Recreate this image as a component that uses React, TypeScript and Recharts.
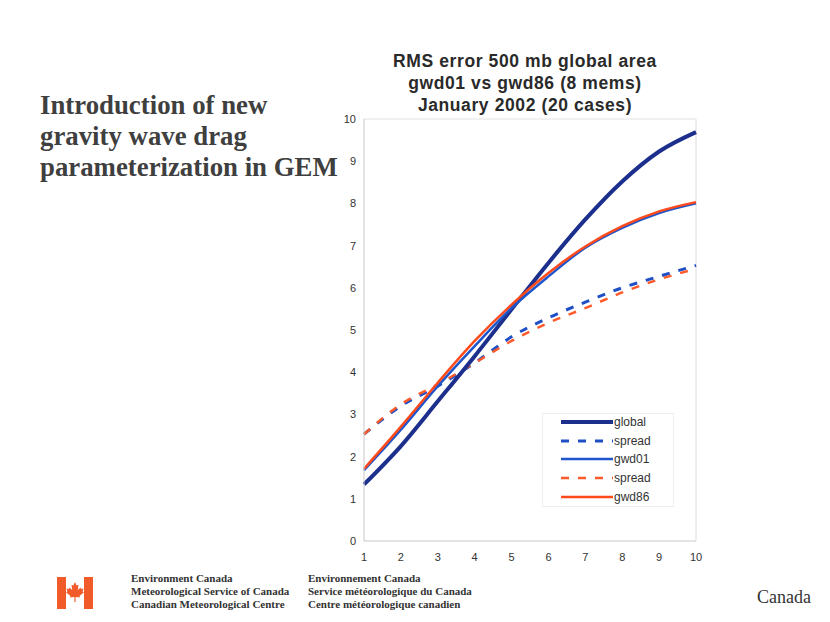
import React from "react";
import { LineChart, Line, XAxis, YAxis, Legend, ReferenceLine } from "recharts";

const leadDays = [1, 2, 3, 4, 5, 6, 7, 8, 9, 10];
const globalErr = [1.34, 2.25, 3.31, 4.38, 5.49, 6.59, 7.62, 8.52, 9.23, 9.69];
const spread01 = [2.53, 3.2, 3.67, 4.22, 4.84, 5.29, 5.66, 6.0, 6.27, 6.53];
const gwd01 = [1.68, 2.64, 3.67, 4.62, 5.52, 6.27, 6.95, 7.42, 7.77, 8.0];
const spread86 = [2.53, 3.24, 3.71, 4.22, 4.74, 5.17, 5.52, 5.89, 6.2, 6.45];
const gwd86 = [1.71, 2.71, 3.75, 4.74, 5.6, 6.35, 6.98, 7.46, 7.81, 8.03];
const yTicks = [0, 1, 2, 3, 4, 5, 6, 7, 8, 9, 10];

const data = leadDays.map((d, i) => ({
  day: d,
  global: globalErr[i],
  spread01: spread01[i],
  gwd01: gwd01[i],
  spread86: spread86[i],
  gwd86: gwd86[i],
}));

const legendItems = [
  { label: "global", color: "#1c2f8c", width: 4, dash: "" },
  { label: "spread", color: "#1f4fc4", width: 3, dash: "8 9" },
  { label: "gwd01", color: "#1f55cc", width: 2.5, dash: "" },
  { label: "spread", color: "#ff5a2a", width: 2.5, dash: "8 9" },
  { label: "gwd86", color: "#ff4a1c", width: 2.5, dash: "" },
];

const LegendBox = () => (
  <div
    style={{
      position: "absolute",
      left: 542,
      top: 413,
      width: 130,
      height: 92,
      border: "1px solid #eeeeee",
      background: "#fff",
      fontFamily: "Arial, 'Liberation Sans', sans-serif",
      fontSize: 12,
      color: "#333",
    }}
  >
    {legendItems.map((it, i) => (
      <div key={i} style={{ position: "absolute", left: 17, top: -1 + i * 18.7, height: 18, display: "flex", alignItems: "center" }}>
        <svg width={54} height={10}>
          <line x1={1} y1={5} x2={53} y2={5} stroke={it.color} strokeWidth={it.width} strokeDasharray={it.dash} />
        </svg>
        <span style={{ marginLeft: 0 }}>{it.label}</span>
      </div>
    ))}
  </div>
);

const Flag = () => (
  <svg width={36} height={32} viewBox="0 0 36 32" style={{ position: "absolute", left: 57, top: 577 }}>
    <rect x={0} y={0} width={9} height={32} fill="#f15a29" />
    <rect x={27} y={0} width={9} height={32} fill="#f15a29" />
    <path
      d="M18 5 L19.6 8.5 L21.5 7.8 L20.8 13 L23.5 10.5 L24 12 L26.5 11.5 L25.6 14.5 L27 15.2 L22.5 19 L23 20.6 L18.6 20 L18.6 25 L17.4 25 L17.4 20 L13 20.6 L13.5 19 L9 15.2 L10.4 14.5 L9.5 11.5 L12 12 L12.5 10.5 L15.2 13 L14.5 7.8 L16.4 8.5 Z"
      fill="#f15a29"
    />
  </svg>
);

const footerStyle: React.CSSProperties = {
  position: "absolute",
  fontFamily: "'Liberation Serif', 'Times New Roman', serif",
  fontSize: 11,
  lineHeight: "13px",
  color: "#333",
  fontWeight: "bold",
};

const tickStyle = { fill: "#333", fontSize: 11, fontFamily: "Arial, 'Liberation Sans', sans-serif" };

export default function App() {
  return (
    <div style={{ position: "absolute", left: 0, top: 0, width: 830, height: 622, background: "#fff", overflow: "hidden" }}>
      <div
        style={{
          position: "absolute",
          left: 40,
          top: 90,
          fontFamily: "'Liberation Serif', 'Times New Roman', serif",
          fontWeight: "bold",
          fontSize: 26.8,
          lineHeight: "31px",
          color: "#3f3f3f",
        }}
      >
        Introduction of new
        <br />
        gravity wave drag
        <br />
        parameterization in GEM
      </div>
      <div
        style={{
          position: "absolute",
          left: 300,
          width: 450,
          top: 50,
          textAlign: "center",
          fontFamily: "Arial, 'Liberation Sans', sans-serif",
          fontWeight: "bold",
          fontSize: 17.5,
          letterSpacing: 0.6,
          lineHeight: "22px",
          color: "#2a2a2a",
        }}
      >
        RMS error 500 mb global area
        <br />
        gwd01 vs gwd86 (8 mems)
        <br />
        January 2002 (20 cases)
      </div>
      <div style={{ position: "absolute", left: 0, top: 0 }}>
        <LineChart width={830} height={622} data={data} margin={{ top: 119, right: 134, bottom: 51, left: 334 }}>
          <XAxis
            dataKey="day"
            type="number"
            domain={[1, 10]}
            ticks={leadDays}
            tickLine={false}
            axisLine={{ stroke: "#c8c8c8" }}
            tick={{ ...tickStyle, dy: 4 }}
            height={30}
          />
          <YAxis
            type="number"
            domain={[0, 10]}
            ticks={yTicks}
            tickLine={false}
            axisLine={{ stroke: "#c8c8c8" }}
            tick={tickStyle}
            width={30}
          />
          <ReferenceLine y={10} stroke="#e2e2e2" />
          <ReferenceLine x={10} stroke="#dcdcdc" />
          <Line type="monotone" dataKey="spread01" stroke="#1f4fc4" strokeWidth={3} strokeDasharray="8 9" dot={false} isAnimationActive={false} />
          <Line type="monotone" dataKey="spread86" stroke="#ff5a2a" strokeWidth={2.5} strokeDasharray="8 9" dot={false} isAnimationActive={false} />
          <Line type="monotone" dataKey="global" stroke="#1c2f8c" strokeWidth={4} dot={false} isAnimationActive={false} />
          <Line type="monotone" dataKey="gwd01" stroke="#1f55cc" strokeWidth={2.5} dot={false} isAnimationActive={false} />
          <Line type="monotone" dataKey="gwd86" stroke="#ff4a1c" strokeWidth={2.5} dot={false} isAnimationActive={false} />
          <Legend content={() => null} />
        </LineChart>
      </div>
      <LegendBox />
      <Flag />
      <div style={{ ...footerStyle, left: 131, top: 572 }}>
        Environment Canada
        <br />
        Meteorological Service of Canada
        <br />
        Canadian Meteorological Centre
      </div>
      <div style={{ ...footerStyle, left: 308, top: 572 }}>
        Environnement Canada
        <br />
        Service météorologique du Canada
        <br />
        Centre météorologique canadien
      </div>
      <div
        style={{
          position: "absolute",
          left: 757,
          top: 587,
          fontFamily: "'Liberation Serif', 'Times New Roman', serif",
          fontSize: 18,
          color: "#333",
        }}
      >
        Canada
      </div>
    </div>
  );
}
